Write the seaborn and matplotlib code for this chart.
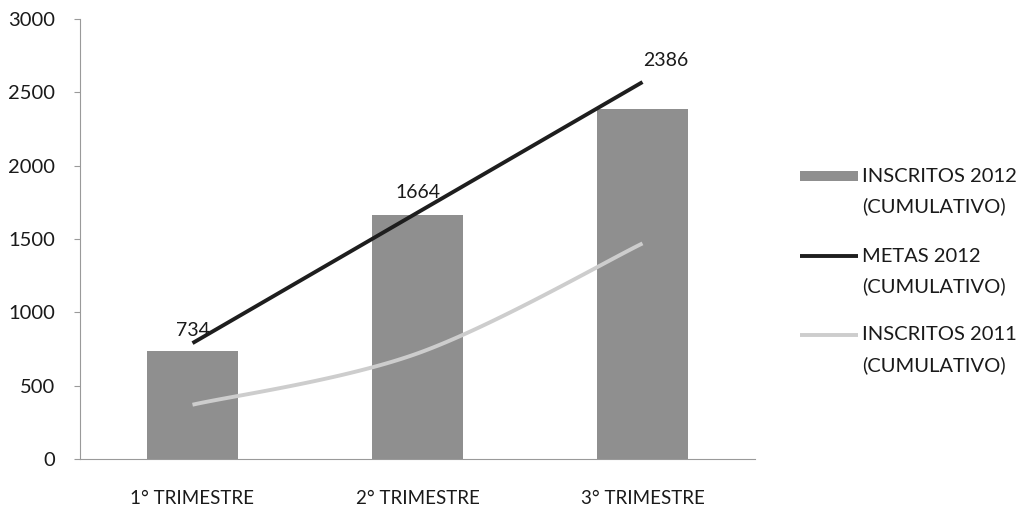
import numpy as np
import pandas as pd
import matplotlib
matplotlib.use("Agg")
import matplotlib.pyplot as plt
from matplotlib.lines import Line2D
from matplotlib.patches import Rectangle
import seaborn as sns

# Quarterly enrolment figures (cumulative)
trimestres = ["1° TRIMESTRE", "2° TRIMESTRE", "3° TRIMESTRE"]
inscritos_2012 = [734, 1664, 2386]
metas_2012 = [790, 1680, 2570]
inscritos_2011 = [370, 720, 1470]
y_ticks = [0, 500, 1000, 1500, 2000, 2500, 3000]
legend_labels = [
    ("INSCRITOS 2012", "(CUMULATIVO)"),
    ("METAS 2012", "(CUMULATIVO)"),
    ("INSCRITOS 2011", "(CUMULATIVO)"),
]

sns.set_theme(style="white")
plt.rcParams["font.family"] = ["Lato", "DejaVu Sans"]

BAR_GRAY = "#8f8f8f"
META_COLOR = "#1e1e1e"
PREV_COLOR = "#cdcdcd"
AXIS_GRAY = "#9a9a9a"
TEXT = "#1a1a1a"
W, H = 1021, 513

fig = plt.figure(figsize=(W / 100, H / 100), dpi=100)
ax = fig.add_axes([80 / W, 54 / H, 675 / W, 440 / H])

df = pd.DataFrame({"trimestre": trimestres, "inscritos": inscritos_2012})
sns.barplot(data=df, x="trimestre", y="inscritos", color=BAR_GRAY,
            saturation=1, width=0.405, linewidth=0, ax=ax)


def smooth_curve(xs, ys, n=60):
    """Cubic Bezier segments through the points (spreadsheet-style smoothed line)."""
    pts = np.column_stack([np.asarray(xs, float), np.asarray(ys, float)])
    m = len(pts)
    out = []
    for i in range(m - 1):
        p0 = pts[i - 1] if i > 0 else pts[i]
        p1, p2 = pts[i], pts[i + 1]
        p3 = pts[i + 2] if i + 2 < m else pts[i + 1]
        c1 = p1 + (p2 - p0) / 6.0
        c2 = p2 - (p3 - p1) / 6.0
        t = np.linspace(0, 1, n)[:, None]
        seg = ((1 - t) ** 3) * p1 + 3 * ((1 - t) ** 2) * t * c1 \
            + 3 * (1 - t) * (t ** 2) * c2 + (t ** 3) * p2
        out.append(seg if i == 0 else seg[1:])
    curve = np.vstack(out)
    return curve[:, 0], curve[:, 1]


xpos = np.arange(len(trimestres))
mx, my = smooth_curve(xpos, metas_2012)
ax.plot(mx, my, color=META_COLOR, lw=2.8, solid_capstyle="butt", zorder=4)
gx, gy = smooth_curve(xpos, inscritos_2011)
ax.plot(gx, gy, color=PREV_COLOR, lw=2.8, solid_capstyle="butt", zorder=4)

# Value labels for the 2012 bars (offsets in points from the bar top)
offsets = [(0, 15), (0, 16), (17, 35)]
for x, v, off in zip(xpos, inscritos_2012, offsets):
    ax.annotate(f"{v}", xy=(x, v), xytext=off, textcoords="offset points",
                ha="center", va="center", fontsize=14, color=TEXT, zorder=5)

ax.set_xlim(-0.5, 2.5)
ax.set_ylim(0, 3000)
ax.set_yticks(y_ticks)
ax.set_yticklabels([str(t) for t in y_ticks])
ax.set_xlabel("")
ax.set_ylabel("")

# Category labels centred on bars, tick marks on category boundaries
ax.set_xticks(xpos)
ax.set_xticklabels(trimestres)
ax.tick_params(axis="x", length=0, pad=22, labelsize=13.5, labelcolor=TEXT)
ax.set_xticks([0.5, 1.5, 2.5], minor=True)
ax.tick_params(axis="x", which="minor", length=5, width=0.8, color=AXIS_GRAY,
               direction="out")
ax.tick_params(axis="y", length=4, width=0.8, color=AXIS_GRAY, pad=14,
               labelsize=14.5, labelcolor=TEXT, left=True)

for side in ["top", "right"]:
    ax.spines[side].set_visible(False)
for side in ["left", "bottom"]:
    ax.spines[side].set_color(AXIS_GRAY)
    ax.spines[side].set_linewidth(0.8)

# Legend on the right: key beside the first line of each two-line label
first_line_y = [176, 256, 335]
line_gap = 30
key_x0, key_x1, text_x = 800, 858, 862
for i, ((l1, l2), yp) in enumerate(zip(legend_labels, first_line_y)):
    yf = 1 - yp / H
    if i == 0:
        fig.add_artist(Rectangle((key_x0 / W, yf - 5 / H), (key_x1 - key_x0) / W,
                                 10 / H, transform=fig.transFigure,
                                 facecolor=BAR_GRAY, edgecolor="none"))
    else:
        col = META_COLOR if i == 1 else PREV_COLOR
        fig.add_artist(Line2D([key_x0 / W, key_x1 / W], [yf, yf],
                              transform=fig.transFigure, color=col, lw=2.8,
                              solid_capstyle="butt"))
    fig.text(text_x / W, yf, l1, ha="left", va="center", fontsize=14.5, color=TEXT)
    fig.text(text_x / W, 1 - (yp + line_gap) / H, l2, ha="left", va="center",
             fontsize=14.5, color=TEXT)

fig.savefig("out.png", dpi=100, facecolor="white")
